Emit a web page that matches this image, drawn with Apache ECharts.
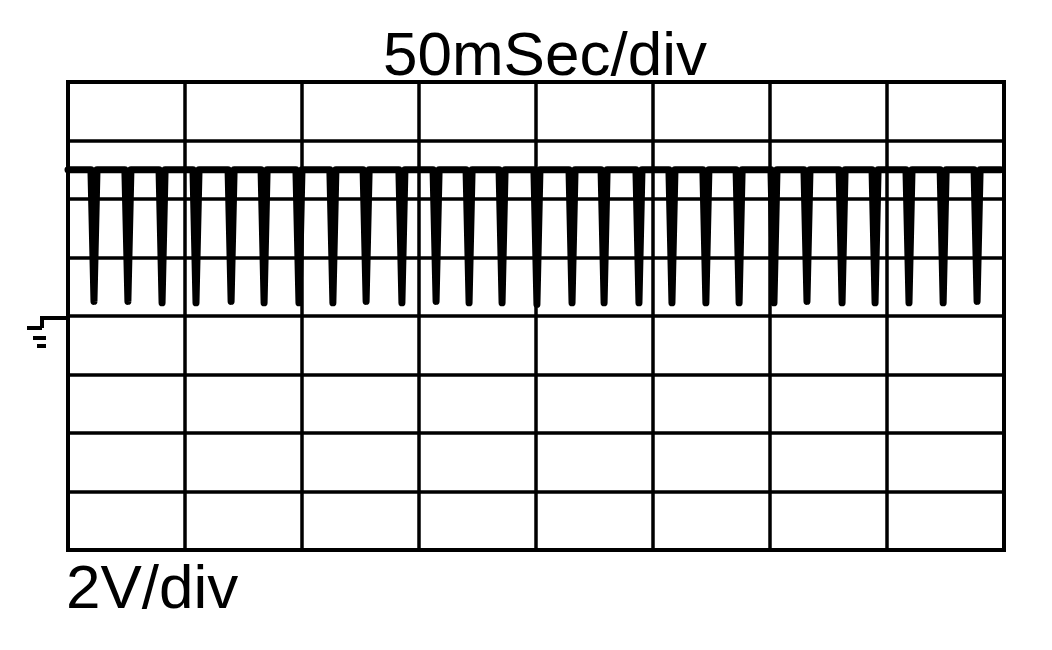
<!DOCTYPE html>
<html>
<head>
<meta charset="utf-8">
<script src="https://cdn.jsdelivr.net/npm/echarts@6/dist/echarts.min.js"></script>
<style>
html,body{margin:0;padding:0;background:#fff;}
#c{width:1052px;height:650px;}
</style>
</head>
<body>
<div id="c"></div>
<script>
// Time axis: 50 ms/div, 8 divisions; voltage axis: 2 V/div, 8 divisions, ground at centre
const titleText = '50mSec/div';
const voltText = '2V/div';
const timeMin = 0, timeMax = 400, timeStep = 50;
const voltMin = -8, voltMax = 8, voltStep = 2;

// Signal
const traceStart = 0;        // ms
const traceEnd = 398.5;      // ms
const highLevel = 5.0;       // V
const dipTimes = [11.1, 25.6, 40.2, 54.7, 69.7, 83.8, 98.7, 113.2, 127.4, 142.7,
                  157.3, 171.4, 185.5, 200.4, 215.4, 229.1, 244.0, 258.1, 272.6, 286.8,
                  301.7, 315.8, 330.8, 344.9, 359.4, 374.0, 388.5];
const dipLows  = [0.5, 0.5, 0.45, 0.45, 0.5, 0.45, 0.45, 0.45, 0.5, 0.45,
                  0.5, 0.45, 0.45, 0.4, 0.45, 0.45, 0.45, 0.45, 0.45, 0.45,
                  0.45, 0.5, 0.45, 0.45, 0.45, 0.45, 0.5];
const dipHalfWidth = 1.3;    // ms, half width of each spike at the top

const trace = [[traceStart, highLevel]];
dipTimes.forEach((t, i) => {
  trace.push([t - dipHalfWidth, highLevel]);
  trace.push([t, dipLows[i]]);
  trace.push([t + dipHalfWidth, highLevel]);
});
trace.push([traceEnd, highLevel]);

const chart = echarts.init(document.getElementById('c'), null, {renderer: 'canvas'});
const FONT = '"Liberation Sans", Arial, Helvetica, sans-serif';
const gridLine = {show: true, lineStyle: {color: '#000', width: 3.5, type: 'solid'}};

chart.setOption({
  animation: false,
  backgroundColor: '#fff',
  title: {
    text: titleText,
    left: 378, top: 22,
    textStyle: {fontFamily: FONT, fontSize: 62, fontWeight: 'normal', color: '#000'}
  },
  grid: {left: 68, right: 48, top: 82, bottom: 100, show: true, borderColor: '#000', borderWidth: 4, backgroundColor: '#fff'},
  xAxis: {
    type: 'value', min: timeMin, max: timeMax, interval: timeStep,
    axisLine: {show: false}, axisTick: {show: false}, axisLabel: {show: false},
    splitLine: gridLine
  },
  yAxis: {
    type: 'value', min: voltMin, max: voltMax, interval: voltStep,
    axisLine: {show: false}, axisTick: {show: false}, axisLabel: {show: false},
    splitLine: gridLine
  },
  series: [{
    type: 'line',
    data: trace,
    showSymbol: false,
    symbol: 'none',
    lineStyle: {color: '#000', width: 7, join: 'round', cap: 'round'},
    z: 5
  }]
});

// Ground-level marker and vertical scale text
const gy = chart.convertToPixel({yAxisIndex: 0}, 0);
const gx = chart.convertToPixel({xAxisIndex: 0}, timeMin);
const ls = {stroke: '#000', lineWidth: 4};
chart.setOption({
  graphic: [
    {type: 'line', shape: {x1: gx - 26, y1: gy + 2, x2: gx, y2: gy + 2}, style: ls},
    {type: 'line', shape: {x1: gx - 26, y1: gy, x2: gx - 26, y2: gy + 12}, style: ls},
    {type: 'line', shape: {x1: gx - 41, y1: gy + 12, x2: gx - 26, y2: gy + 12}, style: ls},
    {type: 'line', shape: {x1: gx - 35, y1: gy + 22, x2: gx - 22, y2: gy + 22}, style: ls},
    {type: 'line', shape: {x1: gx - 31, y1: gy + 30, x2: gx - 22, y2: gy + 30}, style: ls},
    {type: 'text', left: 66, top: 560,
     style: {text: voltText, font: 'normal 62px ' + FONT, fill: '#000'}}
  ]
});
</script>
</body>
</html>
